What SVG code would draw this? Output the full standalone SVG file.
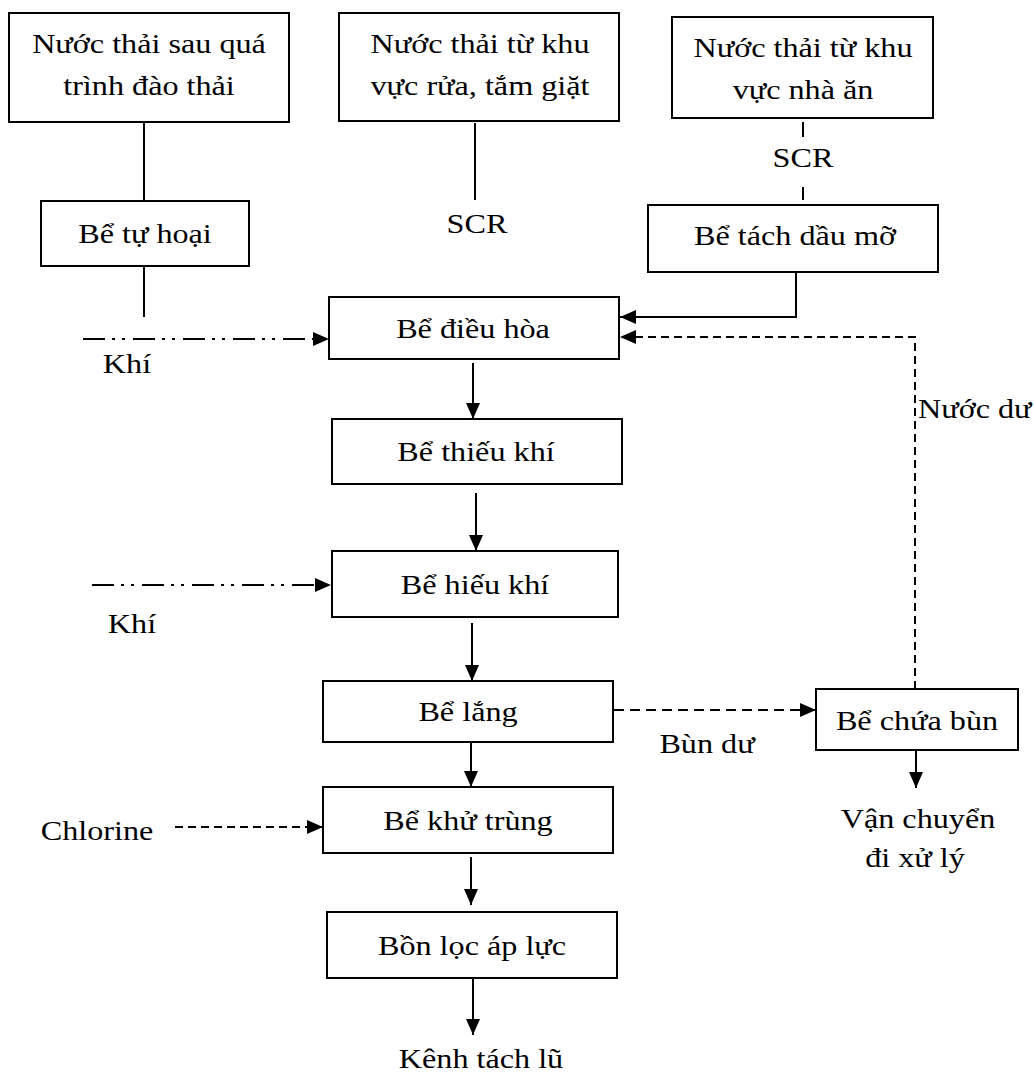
<svg xmlns="http://www.w3.org/2000/svg" width="1034" height="1075" viewBox="0 0 1034 1075">
<style>
.box{fill:#fff;stroke:#000;stroke-width:2}
.t{font-family:"Liberation Serif","Times New Roman",serif;font-size:28px;fill:#000;text-anchor:middle}
.ts{font-family:"Liberation Serif","Times New Roman",serif;font-size:28px;fill:#000;text-anchor:start}
.ln{fill:none;stroke:#000;stroke-width:2}
.dash{fill:none;stroke:#000;stroke-width:2;stroke-dasharray:8 5}
.dd{fill:none;stroke:#000;stroke-width:2;stroke-dasharray:22 7 3 7 3 8}
</style>
<defs>
<marker id="ah" markerUnits="userSpaceOnUse" markerWidth="16" markerHeight="14" refX="16" refY="7" orient="auto">
<path d="M0,0 L16,7 L0,14 z" fill="#000"/>
</marker>
</defs>
<rect width="1034" height="1075" fill="#fff"/>

<g id="connectors">
<line class="ln" x1="144" y1="122" x2="144" y2="201"/>
<line class="ln" x1="144" y1="266" x2="144" y2="317"/>
<line class="ln" x1="475" y1="123" x2="475" y2="200"/>
<line class="ln" x1="803" y1="122" x2="803" y2="137"/>
<line class="ln" x1="803" y1="187" x2="803" y2="200"/>
<path class="ln" d="M796,272 V317 H620" marker-end="url(#ah)"/>
<path class="dash" d="M915,689 V337 H620" marker-end="url(#ah)"/>
<line class="dd" x1="83" y1="339" x2="329" y2="339" marker-end="url(#ah)"/>
<line class="dd" x1="92" y1="585" x2="331" y2="585" marker-end="url(#ah)"/>
<line class="dash" x1="175" y1="827" x2="323" y2="827" marker-end="url(#ah)"/>
<line class="dash" x1="614" y1="710" x2="816" y2="710" marker-end="url(#ah)" style="stroke-dasharray:10 6"/>
<line class="ln" x1="473" y1="363" x2="473" y2="419" marker-end="url(#ah)"/>
<line class="ln" x1="476" y1="493" x2="476" y2="551" marker-end="url(#ah)"/>
<line class="ln" x1="472" y1="623" x2="472" y2="681" marker-end="url(#ah)"/>
<line class="ln" x1="471" y1="742" x2="471" y2="787" marker-end="url(#ah)"/>
<line class="ln" x1="471" y1="857" x2="471" y2="905" marker-end="url(#ah)"/>
<line class="ln" x1="473" y1="978" x2="473" y2="1035" marker-end="url(#ah)"/>
<line class="ln" x1="916" y1="750" x2="916" y2="788" marker-end="url(#ah)"/>
</g>

<g id="n1">
<rect class="box" x="9" y="13" width="280" height="109"/>
<text class="t" transform="matrix(1.15 0 0 1 149 53)">Nước thải sau quá</text>
<text class="t" transform="matrix(1.15 0 0 1 149 95)">trình đào thải</text>
</g>
<g id="n2">
<rect class="box" x="339" y="13" width="280" height="108"/>
<text class="t" transform="matrix(1.15 0 0 1 480 53)">Nước thải từ khu</text>
<text class="t" transform="matrix(1.15 0 0 1 480 95)">vực rửa, tắm giặt</text>
</g>
<g id="n3">
<rect class="box" x="672" y="17" width="261" height="101"/>
<text class="t" transform="matrix(1.15 0 0 1 803 57)">Nước thải từ khu</text>
<text class="t" transform="matrix(1.15 0 0 1 803 99)">vực nhà ăn</text>
</g>
<g id="tuhoai">
<rect class="box" x="41" y="201" width="208" height="65"/>
<text class="t" transform="matrix(1.15 0 0 1 145 243)">Bể tự hoại</text>
</g>
<g id="scr1">
<text class="t" transform="matrix(1.15 0 0 1 477 233)">SCR</text>
</g>
<g id="scr2">
<text class="t" transform="matrix(1.15 0 0 1 803 167)">SCR</text>
</g>
<g id="tachdau">
<rect class="box" x="648" y="205" width="290" height="67"/>
<text class="t" transform="matrix(1.15 0 0 1 795 245)">Bể tách dầu mỡ</text>
</g>
<g id="dieuhoa">
<rect class="box" x="329" y="297" width="290" height="62"/>
<text class="t" transform="matrix(1.15 0 0 1 473 338)">Bể điều hòa</text>
</g>
<g id="thieukhi">
<rect class="box" x="332" y="419" width="290" height="65"/>
<text class="t" transform="matrix(1.15 0 0 1 476 461)">Bể thiếu khí</text>
</g>
<g id="hieukhi">
<rect class="box" x="332" y="551" width="286" height="66"/>
<text class="t" transform="matrix(1.15 0 0 1 475 594)">Bể hiếu khí</text>
</g>
<g id="lang">
<rect class="box" x="323" y="681" width="290" height="61"/>
<text class="t" transform="matrix(1.15 0 0 1 468 721)">Bể lắng</text>
</g>
<g id="khutrung">
<rect class="box" x="323" y="787" width="290" height="66"/>
<text class="t" transform="matrix(1.15 0 0 1 468 830)">Bể khử trùng</text>
</g>
<g id="bonloc">
<rect class="box" x="327" y="912" width="290" height="66"/>
<text class="t" transform="matrix(1.15 0 0 1 472 955)">Bồn lọc áp lực</text>
</g>
<g id="chuabun">
<rect class="box" x="816" y="689" width="202" height="61"/>
<text class="t" transform="matrix(1.15 0 0 1 917 730)">Bể chứa bùn</text>
</g>
<g id="labels">
<text class="t" transform="matrix(1.15 0 0 1 127 373)">Khí</text>
<text class="t" transform="matrix(1.15 0 0 1 132 633)">Khí</text>
<text class="t" transform="matrix(1.15 0 0 1 97 840)">Chlorine</text>
<text class="t" transform="matrix(1.15 0 0 1 707 753)">Bùn dư</text>
<text class="t" transform="matrix(1.15 0 0 1 918 828)">Vận chuyển</text>
<text class="t" transform="matrix(1.15 0 0 1 915 867)">đi xử lý</text>
<text class="ts" transform="matrix(1.15 0 0 1 918 418)">Nước dư</text>
<text class="t" transform="matrix(1.15 0 0 1 481 1068)">Kênh tách lũ</text>
</g>
</svg>
